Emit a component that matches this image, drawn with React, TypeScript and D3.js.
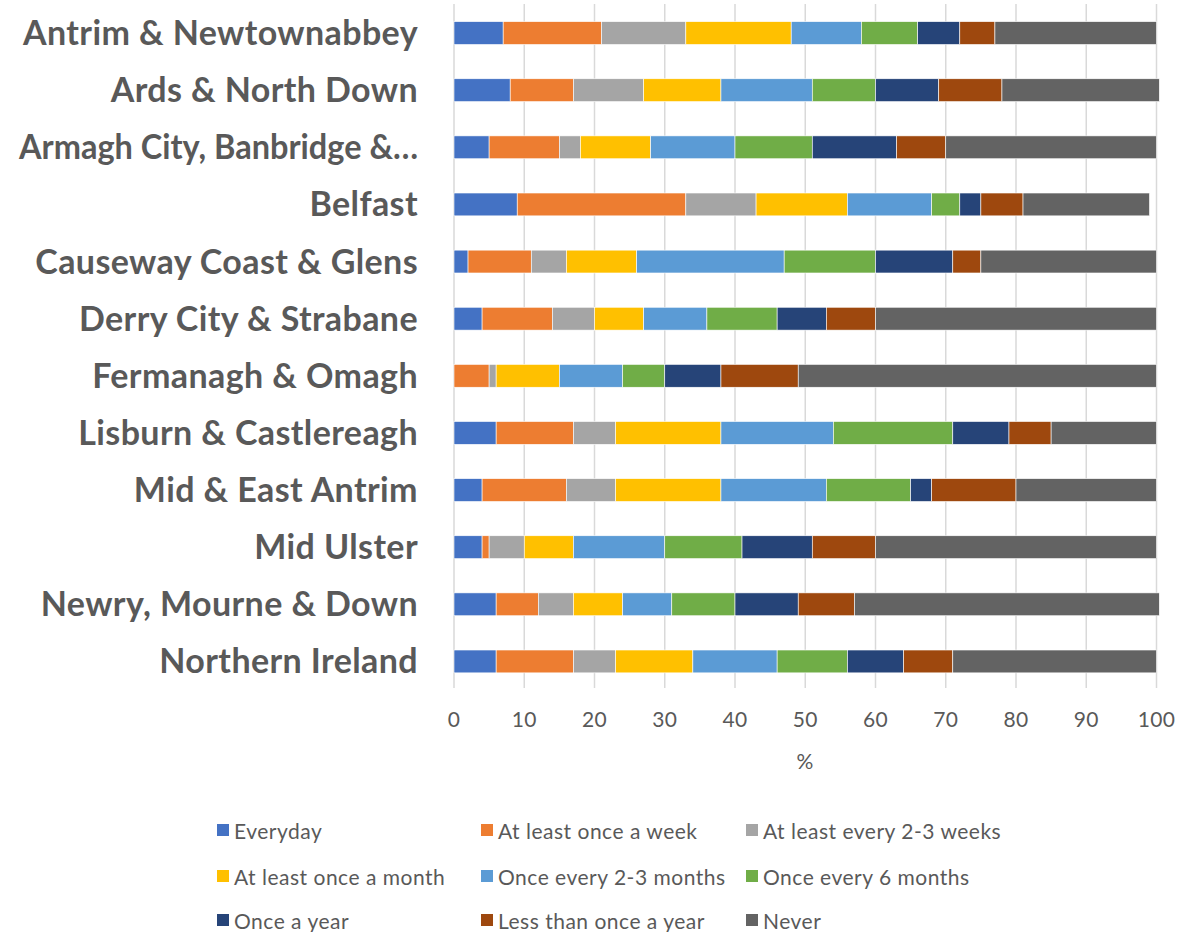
import React, { useEffect, useRef, useState } from "react";
import * as d3 from "d3";

const categories = [
  "Antrim & Newtownabbey",
  "Ards & North Down",
  "Armagh City, Banbridge &…",
  "Belfast",
  "Causeway Coast & Glens",
  "Derry City & Strabane",
  "Fermanagh & Omagh",
  "Lisburn & Castlereagh",
  "Mid & East Antrim",
  "Mid Ulster",
  "Newry, Mourne & Down",
  "Northern Ireland",
];

const seriesNames = [
  "Everyday",
  "At least once a week",
  "At least every 2-3 weeks",
  "At least once a month",
  "Once every 2-3 months",
  "Once every 6 months",
  "Once a year",
  "Less than once a year",
  "Never",
];

const seriesColors = [
  "#4472C4", "#ED7D31", "#A5A5A5", "#FFC000", "#5B9BD5",
  "#70AD47", "#264478", "#9E480E", "#636363",
];

const everyday = [7, 8, 5, 9, 2, 4, 0, 6, 4, 4, 6, 6];
const onceWeek = [14, 9, 10, 24, 9, 10, 5, 11, 12, 1, 6, 11];
const every23Weeks = [12, 10, 3, 10, 5, 6, 1, 6, 7, 5, 5, 6];
const onceMonth = [15, 11, 10, 13, 10, 7, 9, 15, 15, 7, 7, 11];
const every23Months = [10, 13, 12, 12, 21, 9, 9, 16, 15, 13, 7, 12];
const every6Months = [8, 9, 11, 4, 13, 10, 6, 17, 12, 11, 9, 10];
const onceYear = [6, 9, 12, 3, 11, 7, 8, 8, 3, 10, 9, 8];
const lessThanYear = [5, 9, 7, 6, 4, 7, 11, 6, 12, 9, 8, 7];
const never = [23, 22.4, 30, 18, 25, 40, 51, 15, 20, 40, 43.4, 29];

const xTicks = [0, 10, 20, 30, 40, 50, 60, 70, 80, 90, 100];

const allSeries = [
  everyday, onceWeek, every23Weeks, onceMonth, every23Months,
  every6Months, onceYear, lessThanYear, never,
];

const MAX_LABEL_W = 399;

export default function App() {
  const width = 1203;
  const height = 932;
  const x = d3.scaleLinear().domain([0, 100]).range([454, 1156.5]);
  const y = d3.scaleBand<string>().domain(categories).range([4.5, 690]).paddingInner(0.6).paddingOuter(0.3);

  const labelsRef = useRef<SVGGElement>(null);
  const [fit, setFit] = useState<Record<string, boolean>>({});

  useEffect(() => {
    const g = labelsRef.current;
    if (!g) return;
    const next: Record<string, boolean> = {};
    g.querySelectorAll("text").forEach((t) => {
      const el = t as SVGTextElement;
      const c = el.getAttribute("data-cat") || "";
      if (el.getComputedTextLength() > MAX_LABEL_W) next[c] = true;
    });
    setFit(next);
  }, []);

  const rows = categories.map((c, i) => {
    const obj: any = { cat: c };
    seriesNames.forEach((s, j) => (obj[s] = allSeries[j][i]));
    return obj;
  });
  const stack = d3.stack<any>().keys(seriesNames);
  const stacked = stack(rows);

  const textColor = "#595959";
  const font = "Lato, 'Noto Sans', sans-serif";

  const legendCols = [217, 481, 746];
  const legendRows = [830, 876, 920];

  return (
    <svg width={width} height={height} style={{ position: "absolute", left: 0, top: 0, background: "#fff" }}>
      <rect width={width} height={height} fill="#fff" />
      {xTicks.map((t) => (
        <line key={"g" + t} x1={x(t)} x2={x(t)} y1={4} y2={688} stroke="#D9D9D9" strokeWidth={1.5} />
      ))}
      {stacked.map((layer, j) => (
        <g key={layer.key} fill={seriesColors[j]}>
          {layer.map((d, i) => {
            const w = x(d[1]) - x(d[0]);
            if (w <= 0) return null;
            return (
              <rect
                key={i}
                x={x(d[0])}
                y={y(categories[i])!}
                width={w}
                height={y.bandwidth()}
                stroke="#fff"
                strokeWidth={0.6}
              />
            );
          })}
        </g>
      ))}
      <g ref={labelsRef}>
        {categories.map((c) => (
          <text
            key={c}
            data-cat={c}
            x={418}
            y={y(c)! + y.bandwidth() / 2 - 1.5}
            textAnchor="end"
            dominantBaseline="central"
            fontFamily={font}
            fontWeight="bold"
            fontSize={34}
            letterSpacing={fit[c] ? 0 : 0.4}
            textLength={fit[c] ? MAX_LABEL_W : undefined}
            lengthAdjust={fit[c] ? "spacingAndGlyphs" : undefined}
            fill={textColor}
          >
            {c}
          </text>
        ))}
      </g>
      {xTicks.map((t) => (
        <text key={"t" + t} x={x(t)} y={718} textAnchor="middle" dominantBaseline="central" fontFamily={font} fontSize={21} letterSpacing={0.4} fill={textColor}>
          {t}
        </text>
      ))}
      <text x={805} y={760} textAnchor="middle" dominantBaseline="central" fontFamily={font} fontSize={21} fill={textColor}>
        %
      </text>
      {seriesNames.map((s, j) => {
        const cx = legendCols[j % 3];
        const cy = legendRows[Math.floor(j / 3)];
        return (
          <g key={s}>
            <rect x={cx} y={cy - 6} width={12} height={12} fill={seriesColors[j]} />
            <text x={cx + 17} y={cy} dominantBaseline="central" fontFamily={font} fontSize={21} letterSpacing={0.5} fill={textColor}>
              {s}
            </text>
          </g>
        );
      })}
    </svg>
  );
}
